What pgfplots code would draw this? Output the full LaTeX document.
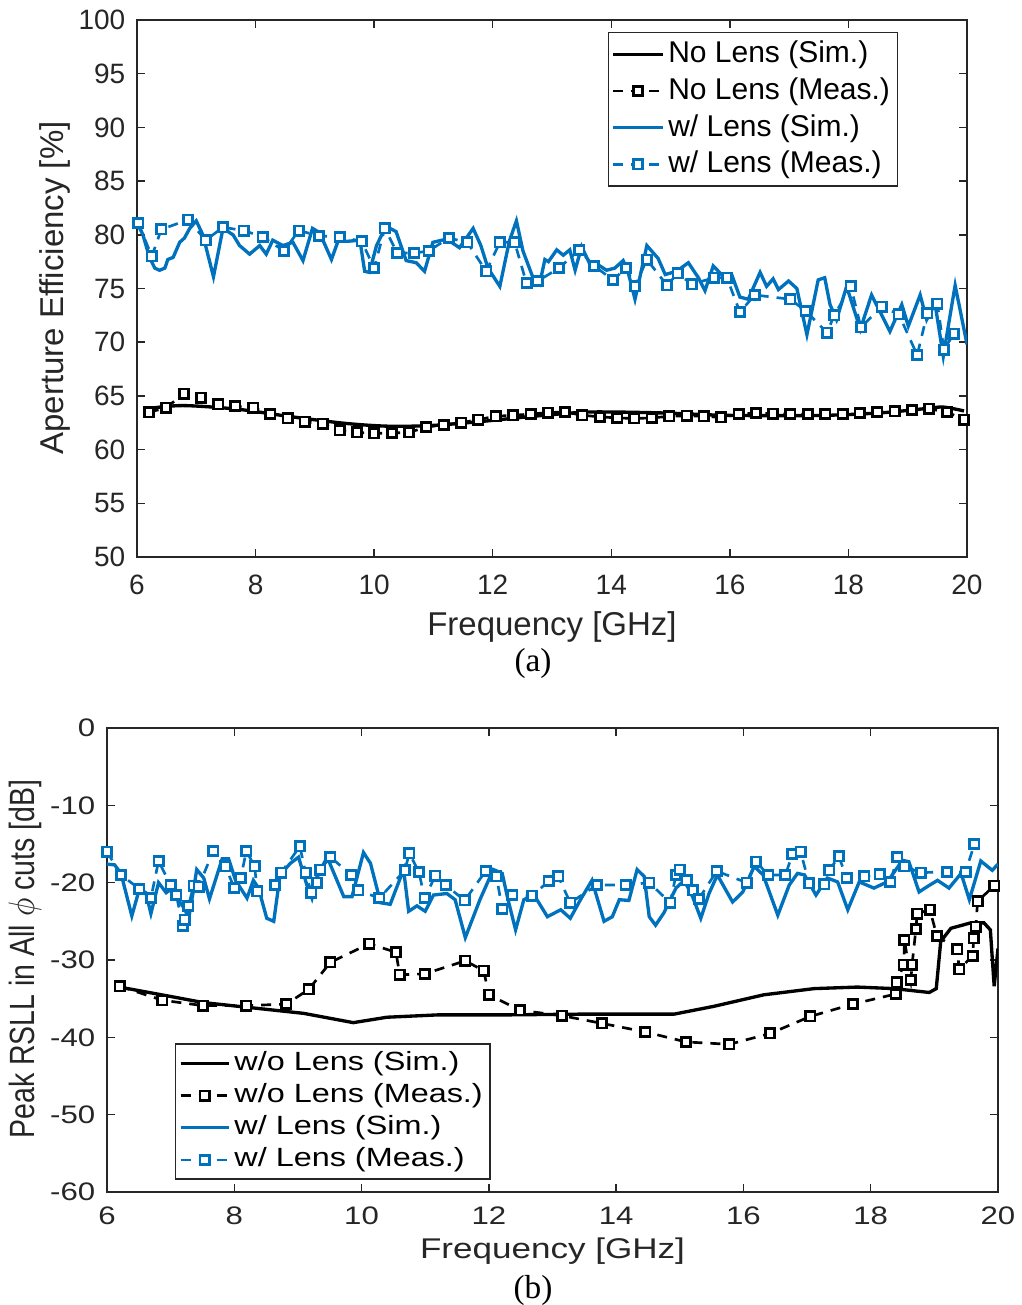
\documentclass[border=0pt]{standalone}
\usepackage{pgfplots}
\pgfplotsset{compat=1.18}
\usepackage{fontspec}
\setmainfont{Liberation Sans}
\newfontfamily\timesfont{Liberation Serif}
\definecolor{mblue}{RGB}{0,114,189}
\definecolor{axgray}{RGB}{38,38,38}
\pgfplotsset{
  simline/.style={line width=1pt, mark=none},
  measline/.style={line width=0.8pt, dash pattern=on 3pt off 2.4pt, mark=square*, mark size=1.4pt, mark options={solid, fill=white, line width=0.8pt}},
}
\begin{document}
\begin{tikzpicture}
\useasboundingbox (0,0) rectangle (306.3pt,391.5pt);
% ---------------- (a) ----------------
\begin{axis}[
  scale only axis, at={(41.1pt,224.4pt)}, anchor=south west,
  width=249pt, height=161.1pt,
  xmin=6, xmax=20, ymin=50, ymax=100,
  xtick={6,8,...,20}, ytick={50,55,...,100},
  axis line style={axgray, line width=0.45pt},
  tick style={axgray, line width=0.45pt}, major tick length=2.5pt,
  /pgf/number format/assume math mode=true,
  ticklabel style={text=axgray, font=\fontsize{8.4}{10}\selectfont},
  xticklabel style={anchor=center, yshift=-8.4pt},
  xlabel={Frequency [GHz]}, ylabel={Aperture Efficiency [\%]},
  label style={text=axgray, font=\fontsize{9.9}{12}\selectfont},
  xlabel style={at={(axis description cs:0.5,-0.1304)}, anchor=center},
  ylabel style={at={(axis description cs:-0.0988,0.501)}, anchor=center},
  legend cell align=left,
  legend image code/.code={\draw[mark repeat=2,mark phase=2,#1] plot coordinates {(0pt,0pt) (7.4pt,0pt) (14.8pt,0pt)};},
  legend style={at={(0.917,0.978)}, anchor=north east, draw=axgray, line width=0.45pt,
    font=\fontsize{9}{10.8}\selectfont, inner xsep=1pt, inner ysep=1pt,
    nodes={inner ysep=1.5pt, inner xsep=1.2pt}},
]
\addplot[simline, black, smooth] coordinates {
(6.2,63.83) (6.77,64.1) (7.68,63.77) (8.59,63.07) (9.5,62.45) (10.23,62.18) (10.95,62.24)
(11.77,62.6) (12.68,63.1) (13.5,63.47) (14.05,63.5) (14.95,63.4) (15.86,63.2) (16.77,63.16)
(17.68,63.2) (18.59,63.44) (19.32,63.83) (19.6,63.96) (19.95,63.6)};
\addlegendentry{No Lens (Sim.)}
\addplot[measline, black] coordinates {
(6.20,63.47) (6.49,63.9) (6.79,65.2) (7.08,64.85) (7.37,64.2) (7.66,64.05) (7.96,63.9)
(8.25,63.3) (8.54,62.9) (8.83,62.6) (9.13,62.4) (9.42,61.8) (9.71,61.6) (10.00,61.5)
(10.30,61.55) (10.59,61.6) (10.88,62.1) (11.17,62.3) (11.47,62.5) (11.76,62.8) (12.05,63.1)
(12.34,63.2) (12.64,63.3) (12.93,63.45) (13.22,63.5) (13.51,63.2) (13.81,63.05) (14.10,62.95)
(14.39,62.9) (14.68,62.95) (14.98,63.1) (15.27,63.15) (15.56,63.1) (15.85,63.0) (16.15,63.3)
(16.44,63.4) (16.73,63.35) (17.02,63.3) (17.32,63.3) (17.61,63.3) (17.90,63.3) (18.19,63.4)
(18.49,63.5) (18.78,63.55) (19.07,63.7) (19.36,63.8) (19.66,63.5) (19.95,62.8)};
\addlegendentry{No Lens (Meas.)}
\addplot[simline, mblue] coordinates {
(6.0,81.1) (6.1,80.0) (6.21,77.9) (6.3,76.9) (6.38,76.7) (6.47,76.9) (6.52,77.7) (6.61,77.9)
(6.72,79.3) (6.8,79.7) (6.89,80.6) (7.0,81.3) (7.11,80.0) (7.29,76.1) (7.45,80.6) (7.62,80.0)
(7.73,79.0) (7.9,78.2) (8.07,79.0) (8.18,78.2) (8.29,79.5) (8.46,79.0) (8.63,79.3) (8.8,77.6)
(8.96,80.6) (9.08,80.2) (9.28,77.7) (9.39,79.4) (9.56,79.4) (9.76,79.5) (9.84,76.6) (9.92,76.5)
(10.04,79.0) (10.2,80.8) (10.37,80.3) (10.54,77.6) (10.71,77.4) (10.85,76.6) (10.99,79.3)
(11.22,79.6) (11.44,78.8) (11.67,80.6) (11.8,79.0) (11.92,76.9) (12.12,75.2) (12.28,79.4)
(12.4,81.3) (12.51,78.5) (12.68,76.0) (12.79,75.4) (12.88,77.7) (12.94,77.5) (13.08,78.6)
(13.19,78.1) (13.3,78.6) (13.39,76.7) (13.5,78.9) (13.67,76.9) (13.78,77.2) (13.92,76.7)
(14.06,76.9) (14.2,77.6) (14.28,76.6) (14.4,74.0) (14.6,79.0) (14.79,77.8) (14.91,76.3)
(15.1,76.6) (15.3,77.4) (15.47,76.0) (15.58,74.8) (15.72,77.1) (15.86,76.3) (16.03,76.3)
(16.17,74.2) (16.31,74.0) (16.51,76.5) (16.62,75.2) (16.73,75.9) (16.82,74.9) (16.99,75.7)
(17.13,75.0) (17.3,70.7) (17.49,75.8) (17.6,76.0) (17.69,73.5) (17.8,72.1) (17.97,75.2)
(18.2,71.2) (18.39,74.4) (18.7,71.0) (18.9,73.5) (19.01,71.5) (19.21,74.4) (19.32,72.1)
(19.46,73.6) (19.6,68.7) (19.8,75.3) (20.0,69.8)};
\addlegendentry{w/ Lens (Sim.)}
\addplot[measline, mblue] coordinates {
(6.02,81.1) (6.25,78.0) (6.41,80.5) (6.86,81.4) (7.16,79.5) (7.45,80.7) (7.80,80.4) (8.12,79.8)
(8.48,78.5) (8.73,80.4) (9.07,79.9) (9.42,79.8) (9.79,79.4) (10.00,76.9) (10.18,80.6) (10.39,78.3)
(10.68,78.3) (10.92,78.5) (11.26,79.7) (11.57,79.3) (11.89,76.6) (12.12,79.3) (12.37,79.3)
(12.57,75.5) (12.76,75.7) (13.12,76.9) (13.46,78.6) (13.71,77.1) (14.03,75.8) (14.25,76.9)
(14.40,75.2) (14.60,77.7) (14.94,75.3) (15.12,76.4) (15.36,75.4) (15.73,76.0) (15.95,76.0)
(16.17,72.8) (16.42,74.4) (17.02,74.0) (17.28,72.9) (17.64,70.9) (17.76,72.5) (18.04,75.2)
(18.21,71.4) (18.56,73.3) (18.85,72.6) (19.16,68.8) (19.33,72.7) (19.50,73.6) (19.61,69.3)
(19.78,70.8)};
\addlegendentry{w/ Lens (Meas.)}
\end{axis}
\node[font=\timesfont\fontsize{10}{12}\selectfont] at (159.9pt,192.6pt) {(a)};
% ---------------- (b) ----------------
\begin{axis}[
  scale only axis, at={(32.1pt,33.9pt)}, anchor=south west,
  width=267.3pt, height=139.2pt,
  xmin=6, xmax=20, ymin=-60, ymax=0,
  xtick={6,8,...,20}, ytick={-60,-50,...,0},
  axis line style={axgray, line width=0.45pt},
  tick style={axgray, line width=0.45pt}, major tick length=2.5pt,
  /pgf/number format/assume math mode=true,
  ticklabel style={text=axgray, font=\fontsize{7.6}{9}\selectfont},
  xticklabel={\scalebox{1.23}[1]{\pgfmathprintnumber{\tick}}},
  yticklabel={\scalebox{1.23}[1]{\pgfmathprintnumber{\tick}}},
  xticklabel style={anchor=center, yshift=-7.2pt},
  xlabel={\scalebox{1.23}[1]{Frequency [GHz]}},
  ylabel={\scalebox{1}[1.23]{Peak RSLL in All $\phi$ cuts [dB]}},
  label style={text=axgray, font=\fontsize{8.55}{10}\selectfont},
  xlabel style={at={(axis description cs:0.5,-0.1272)}, anchor=center},
  ylabel style={at={(axis description cs:-0.092,0.502)}, anchor=center},
  legend cell align=left,
  legend image code/.code={\draw[mark repeat=2,mark phase=2,#1] plot coordinates {(0pt,0pt) (7.2pt,0pt) (14.4pt,0pt)};},
  legend style={at={(0.0763,0.0259)}, anchor=south west, draw=axgray, line width=0.45pt,
    font=\fontsize{7.9}{9.5}\selectfont, inner xsep=1pt, inner ysep=1pt,
    nodes={inner ysep=1.2pt, inner xsep=1.2pt}},
]
\addplot[simline, black] coordinates {
(6.13,-33.4) (6.99,-34.7) (7.51,-35.5) (8.30,-36.2) (9.09,-36.9) (9.87,-38.1) (10.40,-37.4)
(11.19,-37.1) (12.24,-37.1) (13.44,-37.0) (14.91,-37.0) (15.53,-36.0) (16.32,-34.5)
(17.11,-33.7) (17.79,-33.5) (18.37,-33.7) (18.92,-34.2) (19.03,-33.7) (19.10,-27.6)
(19.26,-25.9) (19.57,-25.2) (19.78,-25.2) (19.88,-26.1) (19.94,-33.4) (20.0,-28.5)};
\addlegendentry{\scalebox{1.23}[1]{w/o Lens (Sim.)}}
\addplot[measline, black] coordinates {
(6.20,-33.4) (6.87,-35.2) (7.51,-35.9) (8.19,-35.9) (8.82,-35.7) (9.17,-33.8) (9.51,-30.3)
(10.12,-27.9) (10.54,-29.0) (10.60,-31.9) (10.99,-31.8) (11.63,-30.1) (11.92,-31.4)
(12.00,-34.5) (12.49,-36.5) (13.15,-37.2) (13.78,-38.2) (14.46,-39.3) (15.10,-40.6)
(15.78,-40.9) (16.42,-39.5) (17.05,-37.3) (17.72,-35.7) (18.39,-34.4) (18.41,-32.9)
(18.52,-30.6) (18.53,-27.4) (18.63,-32.6) (18.65,-30.6) (18.71,-26.0) (18.73,-24.0)
(18.93,-23.5) (19.04,-26.9) (19.36,-28.6) (19.39,-31.2) (19.60,-29.5) (19.62,-27.2)
(19.65,-25.7) (19.68,-22.4) (19.94,-20.4)};
\addlegendentry{\scalebox{1.23}[1]{w/o Lens (Meas.)}}
\addplot[simline, mblue] coordinates {
(6.00,-17.6) (6.12,-17.7) (6.22,-18.8) (6.39,-24.3) (6.51,-20.8) (6.61,-21.3) (6.69,-24.0)
(6.81,-20.0) (6.93,-21.3) (7.00,-20.9) (7.10,-22.0) (7.23,-23.5) (7.28,-24.8) (7.36,-20.9)
(7.41,-18.3) (7.52,-19.4) (7.61,-22.1) (7.81,-16.9) (7.91,-16.9) (8.02,-19.7) (8.20,-22.0)
(8.30,-19.7) (8.38,-20.7) (8.51,-24.6) (8.62,-25.0) (8.72,-19.0) (8.88,-17.5) (9.01,-16.7)
(9.14,-20.3) (9.22,-22.0) (9.30,-19.2) (9.46,-16.7) (9.72,-21.8) (9.85,-21.8) (10.03,-16.1)
(10.14,-17.5) (10.30,-22.6) (10.45,-22.8) (10.66,-18.3) (10.74,-23.7) (10.87,-23.0)
(11.00,-23.7) (11.13,-21.6) (11.34,-21.4) (11.47,-22.2) (11.63,-27.1) (11.86,-22.2)
(12.07,-18.3) (12.21,-18.8) (12.29,-21.8) (12.42,-26.1) (12.55,-22.2) (12.71,-21.6)
(12.92,-24.4) (13.13,-23.5) (13.28,-24.6) (13.44,-22.2) (13.62,-19.7) (13.81,-25.0)
(13.94,-24.4) (14.05,-22.2) (14.20,-22.3) (14.33,-18.3) (14.44,-19.2) (14.52,-24.4)
(14.62,-25.5) (14.75,-23.9) (14.94,-20.7) (15.07,-19.7) (15.20,-21.8) (15.33,-24.6)
(15.46,-21.4) (15.59,-19.0) (15.83,-22.5) (15.99,-21.2) (16.17,-17.9) (16.31,-19.0)
(16.54,-24.2) (16.72,-20.3) (16.85,-18.8) (16.96,-19.0) (17.14,-21.6) (17.32,-19.4)
(17.48,-19.9) (17.64,-23.5) (17.82,-19.9) (18.05,-20.7) (18.26,-19.9) (18.50,-17.1)
(18.60,-17.3) (18.76,-21.2) (18.89,-20.5) (19.05,-19.7) (19.23,-20.7) (19.42,-18.8)
(19.55,-22.2) (19.73,-17.2) (19.91,-18.4) (20.00,-17.6)};
\addlegendentry{\scalebox{1.23}[1]{w/ Lens (Sim.)}}
\addplot[measline, mblue] coordinates {
(6.00,-16.0) (6.22,-19.0) (6.51,-20.8) (6.69,-22.0) (6.81,-17.2) (7.00,-20.3) (7.09,-21.6)
(7.19,-25.6) (7.22,-24.8) (7.28,-23.0) (7.36,-20.4) (7.44,-20.5) (7.67,-15.9) (7.86,-17.9)
(8.00,-20.7) (8.10,-19.4) (8.19,-15.9) (8.32,-17.9) (8.36,-21.1) (8.64,-20.3) (8.74,-18.7)
(9.03,-15.3) (9.12,-18.7) (9.21,-21.3) (9.30,-20.0) (9.35,-18.3) (9.51,-16.7) (9.84,-19.0)
(9.95,-21.0) (10.28,-22.0) (10.68,-18.4) (10.75,-16.2) (10.90,-18.6) (10.99,-22.0)
(11.16,-19.1) (11.32,-20.3) (11.62,-22.3) (11.95,-18.5) (12.12,-19.2) (12.21,-23.4)
(12.37,-21.6) (12.68,-21.7) (12.94,-19.8) (13.09,-19.2) (13.28,-22.6) (13.70,-20.3)
(14.15,-20.3) (14.52,-20.0) (14.85,-22.6) (14.94,-19.0) (15.00,-18.3) (15.11,-19.7)
(15.21,-21.0) (15.30,-22.1) (15.58,-18.5) (16.05,-20.0) (16.20,-17.3) (16.39,-19.0)
(16.66,-19.0) (16.77,-16.3) (16.90,-16.0) (17.03,-20.1) (17.27,-20.2) (17.35,-18.4)
(17.50,-16.6) (17.62,-19.4) (17.90,-19.2) (18.14,-18.9) (18.31,-19.9) (18.42,-16.7)
(18.53,-17.9) (18.79,-18.7) (19.20,-18.6) (19.49,-18.6) (19.63,-15.0)};
\addlegendentry{\scalebox{1.23}[1]{w/ Lens (Meas.)}}
\end{axis}
\node[font=\timesfont\fontsize{10}{12}\selectfont] at (159.9pt,4.5pt) {(b)};
\end{tikzpicture}
\end{document}
